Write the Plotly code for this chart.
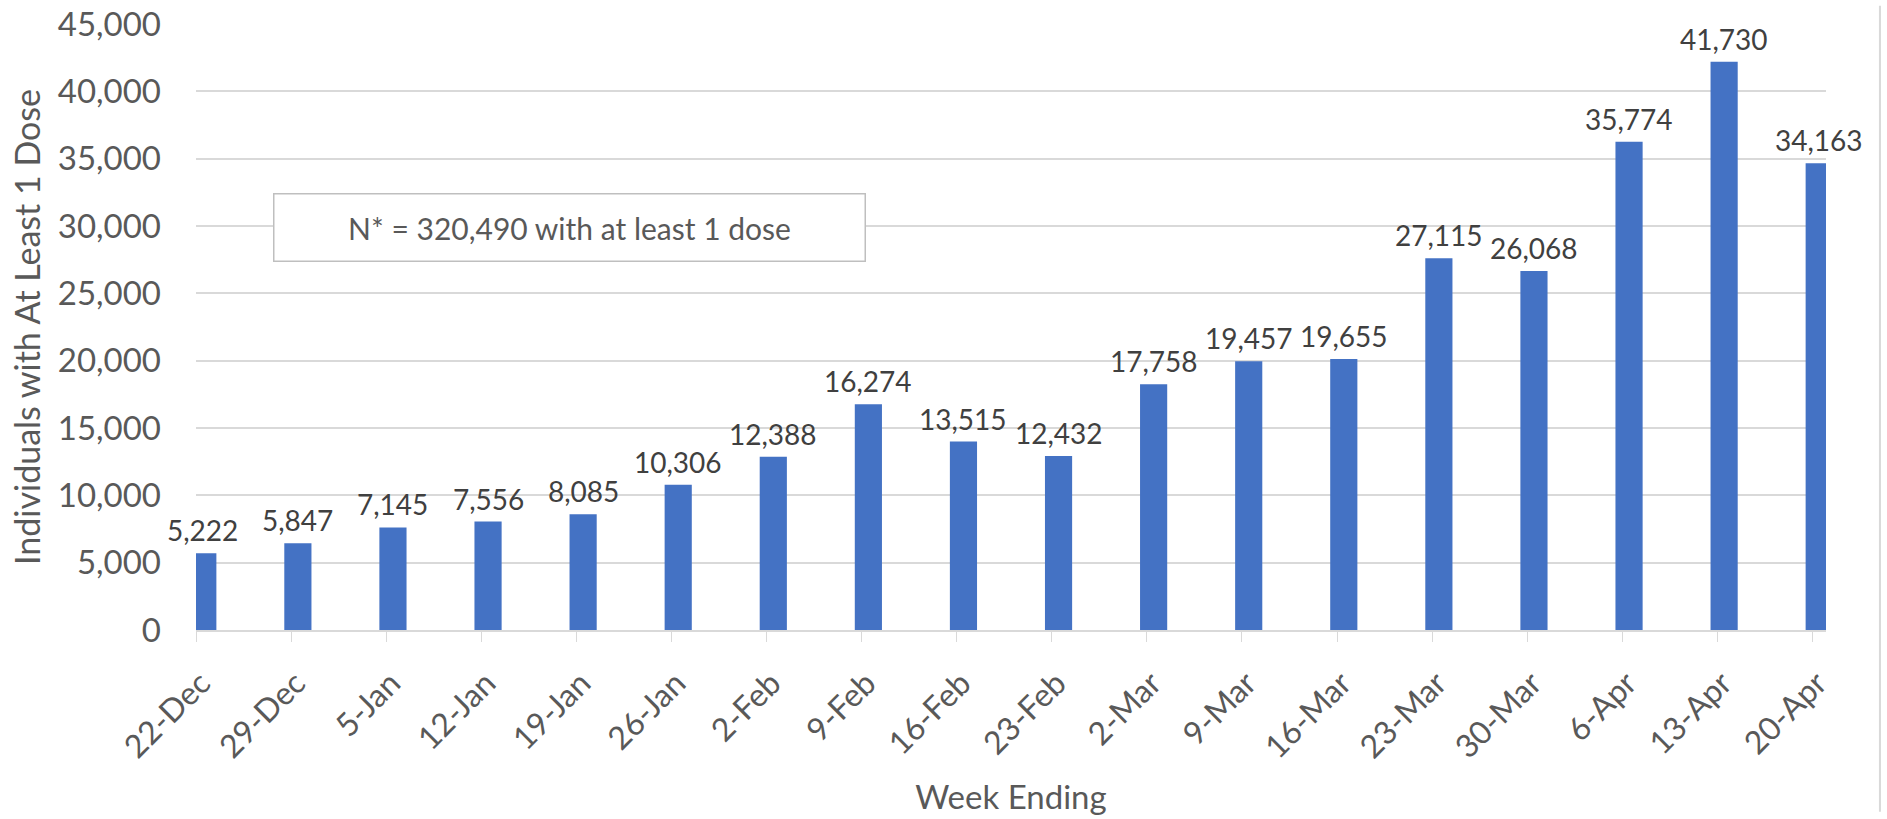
import plotly.graph_objects as go
import pandas as pd

# week ending dates and their tick labels
week_ending = ["2020-12-22", "2020-12-29", "2021-01-05", "2021-01-12", "2021-01-19",
               "2021-01-26", "2021-02-02", "2021-02-09", "2021-02-16", "2021-02-23",
               "2021-03-02", "2021-03-09", "2021-03-16", "2021-03-23", "2021-03-30",
               "2021-04-06", "2021-04-13", "2021-04-20"]
week_labels = ["22-Dec", "29-Dec", "5-Jan", "12-Jan", "19-Jan", "26-Jan", "2-Feb", "9-Feb",
               "16-Feb", "23-Feb", "2-Mar", "9-Mar", "16-Mar", "23-Mar", "30-Mar",
               "6-Apr", "13-Apr", "20-Apr"]

# data labels as printed on the chart
doses = [5222, 5847, 7145, 7556, 8085, 10306, 12388, 16274, 13515, 12432,
         17758, 19457, 19655, 27115, 26068, 35774, 41730, 34163]

# bar heights (bars sit a little above their labels' values)
bar_heights = [5700, 6440, 7620, 8050, 8590, 10790, 12870, 16760, 13990, 12920,
               18250, 19950, 20120, 27600, 26660, 36260, 42200, 34660]

y_ticks = [0, 5000, 10000, 15000, 20000, 25000, 30000, 35000, 40000, 45000]

DAY = 86400000  # ms
FONT = "Lato"
GREY = "#595959"
GRID = "#D9D9D9"

fig = go.Figure()

# bars span from half a day before to 1.5 days after each date
fig.add_trace(go.Bar(
    x=week_ending,
    y=bar_heights,
    width=2 * DAY,
    offset=-0.5 * DAY,
    marker=dict(color="#4472C4", line=dict(width=0)),
    hoverinfo="x+y",
))

# data labels above the bars (centred on the bar, not on the date)
for d, h, v in zip(week_ending, bar_heights, doses):
    fig.add_annotation(
        x=pd.Timestamp(d) + pd.Timedelta(hours=12),
        y=h,
        text=f"{v:,}",
        showarrow=False,
        yanchor="bottom",
        yshift=4,
        font=dict(family=FONT, size=28, color="#404040"),
    )

# summary box
fig.add_annotation(
    xref="paper", yref="paper",
    x=0.229, y=0.665,
    text="N* = 320,490 with at least 1 dose",
    showarrow=False,
    font=dict(family=FONT, size=30, color=GREY),
    bordercolor="#BFBFBF", borderwidth=1.5, borderpad=0,
    bgcolor="white",
    width=590, height=66,
    xanchor="center", yanchor="middle",
)

# chart area border on the right
fig.add_shape(type="line", xref="paper", yref="paper",
              x0=1.0331, x1=1.0331, y0=-0.3, y1=1.03,
              line=dict(color=GRID, width=2))

fig.update_layout(
    width=1887,
    height=819,
    margin=dict(l=196, r=61, t=24, b=189),
    plot_bgcolor="white",
    paper_bgcolor="white",
    showlegend=False,
    font=dict(family=FONT, color=GREY),
    xaxis=dict(
        type="date",
        range=["2020-12-22", "2021-04-21"],
        tickvals=week_ending,
        ticktext=week_labels,
        tickangle=-45,
        tickfont=dict(size=32, color=GREY),
        ticks="outside",
        ticklen=10,
        tickcolor=GRID,
        ticklabelstandoff=10,
        ticklabelshift=5,
        showgrid=False,
        showline=True,
        linecolor=GRID,
        linewidth=1.5,
        zeroline=False,
        automargin=False,
        title=dict(text="Week Ending", font=dict(size=33, color=GREY), standoff=22),
    ),
    yaxis=dict(
        range=[0, 45000],
        tickvals=y_ticks,
        tickformat=",",
        tickfont=dict(size=33, color=GREY),
        ticklabeloverflow="allow",
        showgrid=True,
        gridcolor=GRID,
        gridwidth=1.5,
        zeroline=False,
        showline=False,
        ticklabelstandoff=34,
        automargin=False,
        title=dict(text="Individuals with At Least 1 Dose", font=dict(size=34, color=GREY), standoff=6),
    ),
)

# drop the default 8px page margin so the figure fills the window exactly
fig.write_html("out.html", config={"displayModeBar": False},
               post_script="document.body.style.margin='0';")
